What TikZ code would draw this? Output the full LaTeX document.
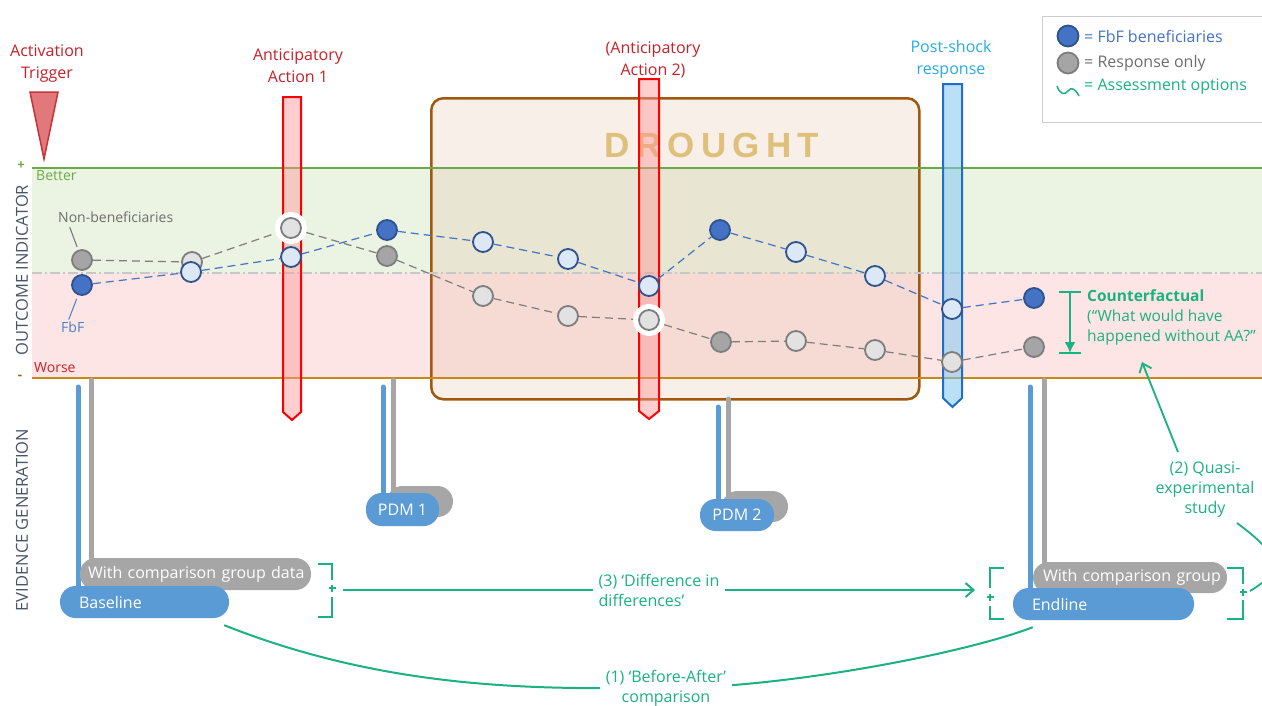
\documentclass[tikz,border=0pt]{standalone}
\usepackage{fontspec}
\setmainfont{Open Sans}
\newfontfamily\headfont{Liberation Sans}
\usetikzlibrary{arrows.meta}

\definecolor{alarmred}{RGB}{200,32,40}
\definecolor{barred}{RGB}{255,0,0}
\definecolor{barpink}{RGB}{255,150,150}
\definecolor{trifill}{RGB}{224,120,124}
\definecolor{triedge}{RGB}{200,50,56}
\definecolor{goodgreen}{RGB}{106,170,70}
\definecolor{goodband}{RGB}{235,243,227}
\definecolor{badband}{RGB}{253,229,229}
\definecolor{floorline}{RGB}{200,136,20}
\definecolor{droughtedge}{RGB}{160,88,16}
\definecolor{droughtfill}{RGB}{225,185,155}
\definecolor{droughttext}{RGB}{222,192,122}
\definecolor{shockblue}{RGB}{41,171,226}
\definecolor{shockedge}{RGB}{31,111,197}
\definecolor{shockfill}{RGB}{130,200,240}
\definecolor{fbfdark}{RGB}{68,114,196}
\definecolor{fbfedge}{RGB}{47,82,143}
\definecolor{fbflight}{RGB}{220,232,246}
\definecolor{resdark}{RGB}{165,165,165}
\definecolor{resedge}{RGB}{125,125,125}
\definecolor{reslight}{RGB}{226,226,226}
\definecolor{assess}{RGB}{26,178,128}
\definecolor{axisgray}{RGB}{72,84,104}
\definecolor{pillblue}{RGB}{91,155,213}
\definecolor{pillgray}{RGB}{166,166,166}
\definecolor{legendedge}{RGB}{205,205,205}
\definecolor{labelgray}{RGB}{110,110,110}
\definecolor{fbftext}{RGB}{70,130,200}
\definecolor{midgray}{RGB}{200,200,200}

\tikzset{
  title/.style={font=\fontsize{16}{22}\selectfont, align=center, inner sep=0pt},
  small/.style={font=\fontsize{14}{16}\selectfont, inner sep=0pt},
  greentext/.style={font=\fontsize{16}{20}\selectfont, text=assess, inner sep=0pt},
  axislabel/.style={font=\fontsize{16.5}{18}\selectfont, text=axisgray, rotate=90, inner sep=0pt},
  datapt/.style={circle, minimum size=20pt, inner sep=0pt, line width=1.8pt},
  fbfD/.style={datapt, fill=fbfdark, draw=fbfedge},
  fbfL/.style={datapt, fill=fbflight, draw=fbfedge},
  resD/.style={datapt, fill=resdark, draw=resedge},
  resL/.style={datapt, fill=reslight, draw=resedge},
  halo/.style={outer sep=6pt, preaction={draw=white, line width=12pt}},
  gline/.style={draw=resedge, line width=1.2pt, dash pattern=on 8pt off 5pt},
  bline/.style={draw=fbfdark, line width=1.2pt, dash pattern=on 8pt off 5pt},
  aabar/.style={draw=barred, line width=2pt, fill=barpink, fill opacity=0.45},
  shockbar/.style={draw=shockedge, line width=2pt, fill=shockfill, fill opacity=0.55},
  pill/.style={rounded corners=15.5pt, minimum height=32pt, inner ysep=0pt, text=white,
    font=\fontsize{16}{18}\selectfont},
  stemblue/.style={draw=pillblue, line width=5pt, line cap=round},
  stemgray/.style={draw=pillgray, line width=5pt, line cap=round},
  brk/.style={draw=assess, line width=2pt},
  plusmark/.style={draw=assess, line width=1.6pt},
  assessline/.style={draw=assess, line width=2pt},
}

\begin{document}
\begin{tikzpicture}[x=1pt, y=-1pt]
\useasboundingbox (0,0) rectangle (1262,705);
\clip (0,0) rectangle (1262,705);
\fill[white] (0,0) rectangle (1262,705);

% outcome bands
\fill[goodband] (32,168) rectangle (1262,273);
\fill[badband] (32,273) rectangle (1262,378);

% drought period
\node[draw=droughtedge, line width=2.5pt, fill=droughtfill, fill opacity=0.22,
  rounded corners=12pt, minimum width=488pt, minimum height=301pt, inner sep=0pt,
  anchor=north west] (drought) at (430,97) {};
\node[font=\headfont\bfseries\fontsize{35}{40}\selectfont, text=droughttext, inner sep=0pt]
  (droughtlbl) at (712,145) {D\kern6.3pt R\kern6.3pt O\kern6.3pt U\kern6.3pt G\kern6.3pt H\kern6.3pt T};

% axis lines
\draw[goodgreen, line width=2pt] (32,168) -- (1262,168);
\draw[midgray, line width=1.6pt, dash pattern=on 10pt off 3pt on 2pt off 3pt] (32,273) -- (1262,273);
\draw[floorline, line width=2pt] (32,378) -- (1262,378);
\node[font=\bfseries\fontsize{13}{14}\selectfont, text=goodgreen, inner sep=0pt] (plus) at (21,166) {+};
\node[font=\bfseries\fontsize{13}{14}\selectfont, text=droughtedge, inner sep=0pt] (minus) at (20,377) {-};
\node[small, text=goodgreen, anchor=west] (better) at (36,176) {Better};
\node[small, text=alarmred, anchor=west] (worse) at (34,368) {Worse};
\node[axislabel] (ylab1) at (22,270) {OUTCOME INDICATOR};
\node[axislabel] (ylab2) at (22,520) {EVIDENCE GENERATION};

% trigger and actions
\node[title, text=alarmred] (trig) at (47,64) {Activation\\Trigger};
\draw[draw=triedge, fill=trifill, line width=1.5pt] (30,92) -- (58,92) -- (44,159) -- cycle;
\node[title, text=alarmred] (aa1) at (298,66) {Anticipatory\\Action 1};
\node[title, text=alarmred] (aa2) at (653,60) {(Anticipatory\\Action 2)};
\node[title, text=shockblue] (psr) at (951,59) {Post-shock\\response};
\draw[aabar] (283,97) -- (301,97) -- (301,412) -- (292,420) -- (283,412) -- cycle;
\draw[aabar] (639,79) -- (659,79) -- (659,411) -- (649,419) -- (639,411) -- cycle;
\draw[shockbar] (943,84) -- (962,84) -- (962,398) -- (952.5,407) -- (943,398) -- cycle;

% response-only series
\node[resD] (r1) at (82,260) {};
\node[resL] (r2) at (192,262) {};
\node[resL, halo] (r3) at (291,228) {};
\node[resD] (r4) at (387,256) {};
\node[resL] (r5) at (483,296) {};
\node[resL] (r6) at (568,316) {};
\node[resL, halo] (r7) at (649,320) {};
\node[resD] (r8) at (721,342) {};
\node[resL] (r9) at (796,341) {};
\node[resL] (r10) at (875,350) {};
\node[resL] (r11) at (952,362) {};
\node[resD] (r12) at (1034,347) {};

% FbF beneficiary series
\node[fbfD] (f1) at (82,285) {};
\node[fbfL] (f2) at (191,272) {};
\node[fbfL] (f3) at (291,257) {};
\node[fbfD] (f4) at (387,230) {};
\node[fbfL] (f5) at (483,242) {};
\node[fbfL] (f6) at (568,259) {};
\node[fbfL] (f7) at (649,286) {};
\node[fbfD] (f8) at (720,230) {};
\node[fbfL] (f9) at (796,252) {};
\node[fbfL] (f10) at (875,276) {};
\node[fbfL] (f11) at (952,309) {};
\node[fbfD] (f12) at (1034,298) {};

\foreach \a/\b in {r1/r2,r2/r3,r3/r4,r4/r5,r5/r6,r6/r7,r7/r8,r8/r9,r9/r10,r10/r11,r11/r12}
  \draw[gline] (\a) -- (\b);
\foreach \a/\b in {f1/f2,f2/f3,f3/f4,f4/f5,f5/f6,f6/f7,f7/f8,f8/f9,f9/f10,f10/f11,f11/f12}
  \draw[bline] (\a) -- (\b);

\node[small, text=labelgray, anchor=west] (nonb) at (58,217) {Non-beneficiaries};
\node[small, text=fbftext, anchor=west] (fbfl) at (61,327) {FbF};
\draw[labelgray, line width=1pt, shorten <=5pt, shorten >=3pt] ([xshift=10pt]nonb.south west) -- (r1);
\draw[fbftext, line width=1pt, shorten <=4pt, shorten >=2pt] (f1) -- ([xshift=7pt]fbfl.north west);

% counterfactual gap
\coordinate (cft) at (1070,292);
\coordinate (cfb) at (1070,353);
\draw[assessline] ([xshift=-11pt]cft) -- ([xshift=11pt]cft);
\draw[assessline] ([xshift=-11pt]cfb) -- ([xshift=11pt]cfb);
\draw[assessline, -{Latex[length=11pt,width=11pt]}] (cft) -- (cfb);
\node[greentext, font=\fontsize{15.5}{20}\selectfont, anchor=north west, align=left] (cf) at (1087,289)
  {\textbf{Counterfactual}\\(“What would have\\happened without AA?”};

% legend
\node[draw=legendedge, line width=1.2pt, minimum width=240pt, minimum height=106pt,
  anchor=north west, inner sep=0pt] (legend) at (1042,16) {};
\node[fbfD, minimum size=21pt] (lgf) at (1068,36) {};
\node[resD, minimum size=21pt] (lgr) at (1068,63) {};
\draw[assess, line width=1.5pt] (1057,86) .. controls (1060,95) and (1065,95) .. (1068,91)
  .. controls (1071,87) and (1075,88) .. (1079,96);
\node[font=\fontsize{16}{18}\selectfont, text=fbfdark, anchor=west, inner sep=0pt] (lgft) at (1084,36) {= FbF beneficiaries};
\node[font=\fontsize{16}{18}\selectfont, text=labelgray, anchor=west, inner sep=0pt] (lgrt) at (1084,63) {= Response only};
\node[font=\fontsize{16}{18}\selectfont, text=assess, anchor=west, inner sep=0pt] (lgat) at (1084,87) {= Assessment options};

% evidence generation: stems ending in data-collection pills
\coordinate (bsb) at (78,387);
\coordinate (bsg) at (91,380);
\coordinate (p1b) at (383,387);
\coordinate (p1g) at (393,380);
\coordinate (p2b) at (718,407);
\coordinate (p2g) at (728,399);
\coordinate (esb) at (1030,387);
\coordinate (esg) at (1044,380);

\draw[stemgray] (bsg) -- (bsg |- 0,574);
\draw[stemblue] (bsb) -- (bsb |- 0,600);
\draw[stemgray] (p1g) -- (p1g |- 0,500);
\draw[stemblue] (p1b) -- (p1b |- 0,505);
\draw[stemgray] (p2g) -- (p2g |- 0,505);
\draw[stemblue] (p2b) -- (p2b |- 0,510);
\draw[stemgray] (esg) -- (esg |- 0,577);
\draw[stemblue] (esb) -- (esb |- 0,600);

\node[pill, fill=pillgray, minimum width=231pt, text width=215pt, align=left, inner xsep=8pt]
  (cmpb) at (195.5,574) {\mbox{With comparison group data}};
\node[pill, fill=pillblue, minimum width=169pt, text width=131pt, align=left, inner xsep=19pt]
  (base) at (144.5,602) {Baseline};
\node[pill, fill=pillgray, minimum width=66pt, minimum height=31pt] (pdm1g) at (420,501.5) {};
\node[pill, fill=pillblue, minimum width=73pt, minimum height=33pt] (pdm1) at (402.5,509.5) {PDM 1};
\node[pill, fill=pillgray, minimum width=66pt, minimum height=31pt] (pdm2g) at (755,506.5) {};
\node[pill, fill=pillblue, minimum width=74pt] (pdm2) at (737,515) {PDM 2};
\node[pill, fill=pillgray, minimum width=194pt, minimum height=31pt, text width=174pt, align=left, inner xsep=10pt]
  (cmpe) at (1130,577.5) {\mbox{With comparison group}};
\node[pill, fill=pillblue, minimum width=181pt, text width=143pt, align=left, inner xsep=19pt]
  (endl) at (1103.5,604) {Endline};

% brackets grouping treatment and comparison data
\draw[brk] (318,564) -- (332,564) -- (332,580);
\draw[brk] (332,597) -- (332,617) -- (318,617);
\draw[plusmark] (328.5,588) -- (335.5,588) (332,584.5) -- (332,591.5);
\draw[brk] (1004,568) -- (990,568) -- (990,588);
\draw[brk] (990,606) -- (990,619) -- (1004,619);
\draw[plusmark] (986.5,597) -- (993.5,597) (990,593.5) -- (990,600.5);
\draw[brk] (1227,568) -- (1243,568) -- (1243,584);
\draw[brk] (1243,600) -- (1243,619) -- (1227,619);
\draw[plusmark] (1239.5,592) -- (1246.5,592) (1243,588.5) -- (1243,595.5);

% assessment options
\coordinate (dids) at (343,590);
\coordinate (dide) at (975,590);
\draw[assessline, -{Straight Barb[length=8pt,width=14pt]}] (dids) --
  node[greentext, fill=white, align=left, inner xsep=6pt, inner ysep=2pt] (didlbl)
  {(3) ‘Difference in\\differences’} (dide);

\draw[assessline] ([xshift=-5pt,yshift=-7pt]base.south east)
  .. controls (400,695) and (560,688) .. (667,688)
  .. controls (780,688) and (960,655) .. ([xshift=20pt,yshift=-7pt]endl.south west);
\node[greentext, fill=white, align=center, inner xsep=6pt, inner ysep=1pt] (balbl) at (666,688)
  {(1) ‘Before-After’\\comparison};

\node[greentext, align=center] (quasi) at (1205,490) {(2) Quasi-\\experimental\\study};
\coordinate (qtop) at (1178,452);
\coordinate (qbot) at (1237,523);
\coordinate (cfpt) at (1142,362);
\coordinate (qplus) at (1250,591);
\draw[assess, line width=1.8pt, -{Straight Barb[length=8pt,width=13pt]}] (qtop) -- (cfpt);
\draw[assess, line width=1.8pt] (qplus) .. controls (1285,570) and (1280,555) .. (qbot);
\end{tikzpicture}
\end{document}
